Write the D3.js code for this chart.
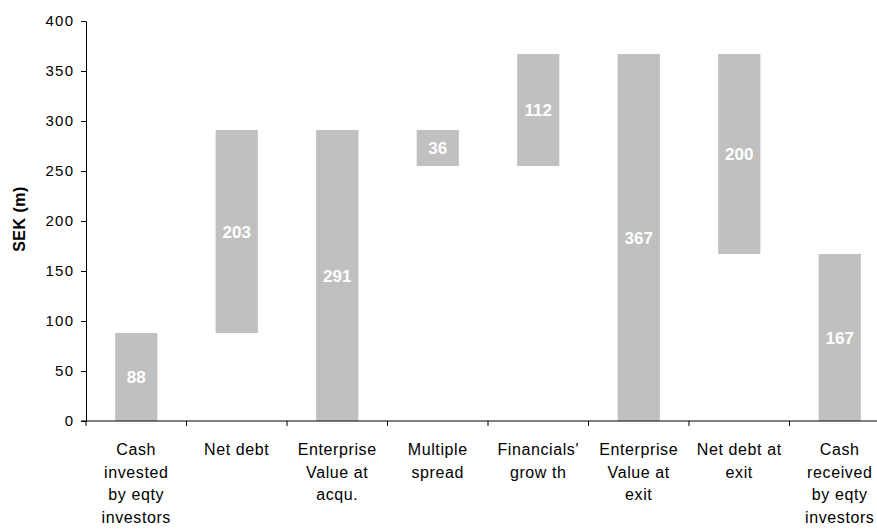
<!DOCTYPE html>
<html>
<head>
<meta charset="utf-8">
<script src="https://cdn.jsdelivr.net/npm/d3@7"></script>
<style>
  html, body { margin: 0; padding: 0; background: #fff; }
  svg { display: block; font-family: "Liberation Sans", Arial, sans-serif; }
</style>
</head>
<body>
<svg id="chart" width="877" height="532"></svg>
<script>
// Waterfall from equity invested to equity received (SEK m)
const categories = [
  ["Cash", "invested", "by eqty", "investors"],
  ["Net debt"],
  ["Enterprise", "Value at", "acqu."],
  ["Multiple", "spread"],
  ["Financials'", "grow th"],
  ["Enterprise", "Value at", "exit"],
  ["Net debt at", "exit"],
  ["Cash", "received", "by eqty", "investors"]
];
const barBase  = [0, 88, 0, 255, 255, 0, 167, 0];
const barValue = [88, 203, 291, 36, 112, 367, 200, 167];
const yTicks = [0, 50, 100, 150, 200, 250, 300, 350, 400];

const svg = d3.select("#chart");
const margin = { left: 86, top: 21, bottom: 111 };
const plotW = 804;
const plotH = 532 - margin.top - margin.bottom;

const x = d3.scaleBand()
  .domain(d3.range(categories.length))
  .range([margin.left, margin.left + plotW])
  .paddingInner(0.58)
  .paddingOuter(0.29);

const y = d3.scaleLinear().domain([0, 400]).range([margin.top + plotH, margin.top]);

// Bars
svg.append("g").selectAll("rect")
  .data(barValue)
  .join("rect")
  .attr("x", (d, i) => x(i))
  .attr("width", x.bandwidth())
  .attr("y", (d, i) => y(barBase[i] + d))
  .attr("height", (d, i) => y(barBase[i]) - y(barBase[i] + d))
  .attr("fill", "#c0c0c0");

// Value labels inside bars
svg.append("g").selectAll("text")
  .data(barValue)
  .join("text")
  .attr("x", (d, i) => x(i) + x.bandwidth() / 2)
  .attr("y", (d, i) => y(barBase[i] + d / 2))
  .attr("dy", "0.36em")
  .attr("text-anchor", "middle")
  .attr("fill", "#fff")
  .attr("font-weight", "bold")
  .attr("font-size", 17)
  .text(d => d);

// Y axis
const yAxis = svg.append("g")
  .attr("transform", `translate(${margin.left},0)`)
  .call(d3.axisLeft(y).tickValues(yTicks).tickSize(5).tickPadding(8).tickSizeOuter(0));
yAxis.select(".domain").attr("stroke", "#000");
yAxis.selectAll(".tick line").attr("stroke", "#000");
yAxis.selectAll(".tick text")
  .attr("font-size", 15)
  .attr("letter-spacing", "1.3px")
  .attr("dx", "1.3px")
  .attr("font-family", "Liberation Sans, Arial, sans-serif")
  .attr("fill", "#000");

// X axis with ticks on category boundaries
const xAxisY = y(0);
svg.append("line")
  .attr("x1", margin.left - 5).attr("x2", margin.left + plotW)
  .attr("y1", xAxisY).attr("y2", xAxisY)
  .attr("stroke", "#000");
const step = x.step();
svg.append("g").selectAll("line")
  .data(d3.range(categories.length + 1))
  .join("line")
  .attr("x1", i => margin.left + i * step)
  .attr("x2", i => margin.left + i * step)
  .attr("y1", xAxisY).attr("y2", xAxisY + 5)
  .attr("stroke", "#000");

// Category labels
const labels = svg.append("g").selectAll("text")
  .data(categories)
  .join("text")
  .attr("text-anchor", "middle")
  .attr("font-size", 16)
  .attr("letter-spacing", "0.6px")
  .attr("fill", "#000")
  .attr("x", (d, i) => x(i) + x.bandwidth() / 2)
  .attr("y", xAxisY + 34);
labels.selectAll("tspan")
  .data(d => d)
  .join("tspan")
  .attr("x", function () { return this.parentNode.getAttribute("x"); })
  .attr("dy", (d, j) => j === 0 ? 0 : 22.5)
  .text(d => d);

// Y axis title
svg.append("text")
  .attr("transform", `translate(25,${y(200) - 2}) rotate(-90)`)
  .attr("text-anchor", "middle")
  .attr("font-size", 16)
  .attr("letter-spacing", "0.5px")
  .attr("font-weight", "bold")
  .attr("fill", "#000")
  .text("SEK (m)");
</script>
</body>
</html>
